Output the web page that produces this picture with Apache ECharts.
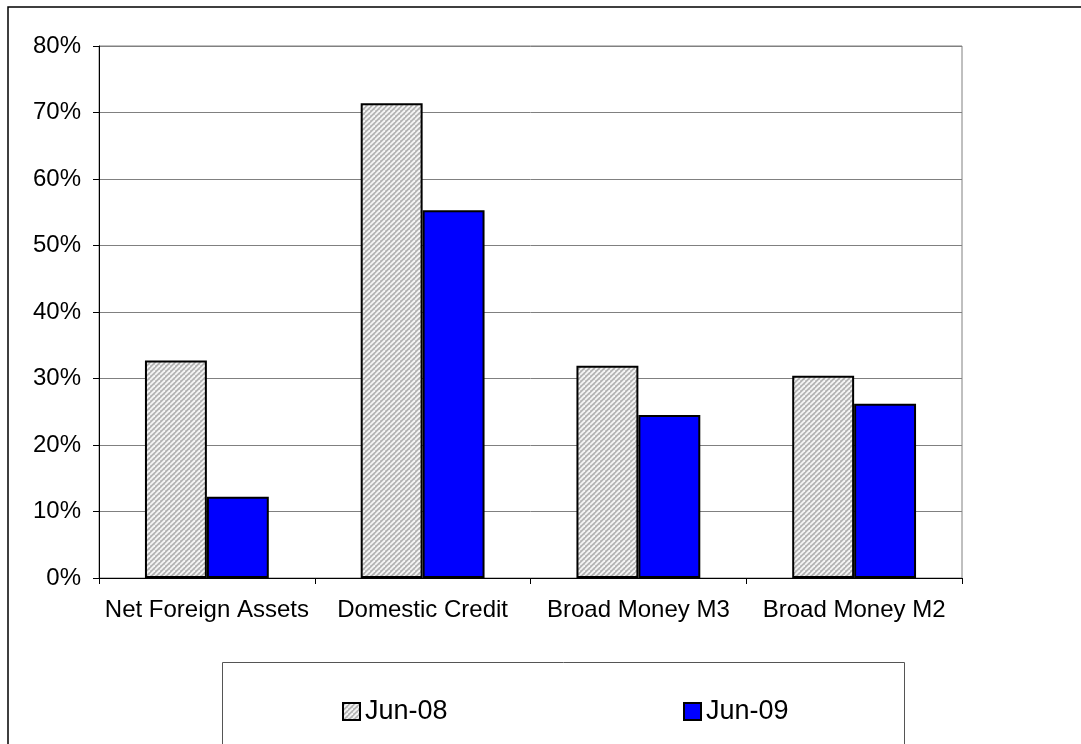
<!DOCTYPE html>
<html>
<head>
<meta charset="utf-8">
<style>
  html, body { margin: 0; padding: 0; background: #ffffff; }
  #chart { width: 1081px; height: 744px; }
</style>
<script src="https://cdn.jsdelivr.net/npm/echarts@6/dist/echarts.min.js"></script>
</head>
<body>
<div id="chart"></div>
<script>
// Monetary aggregates, growth (%)
const categories = ['Net Foreign Assets', 'Domestic Credit', 'Broad Money M3', 'Broad Money M2'];
const seriesNames = ['Jun-08', 'Jun-09'];
const jun08 = [32.7, 71.4, 31.9, 30.4];
const jun09 = [12.2, 55.3, 24.5, 26.2];
const yTicks = [0, 10, 20, 30, 40, 50, 60, 70, 80];

// diagonal hatch fill for the first series
function hatchPattern() {
  const size = 5;
  const c = document.createElement('canvas');
  c.width = size; c.height = size;
  const g = c.getContext('2d');
  g.fillStyle = '#b4b4b4';
  g.fillRect(0, 0, size, size);
  g.strokeStyle = '#f6f6f6';
  g.lineWidth = 1.8;
  for (let k = -1; k <= 1; k++) {
    g.beginPath();
    g.moveTo(k * size, size);
    g.lineTo(k * size + size, 0);
    g.stroke();
  }
  return { image: c, repeat: 'repeat' };
}

const font = 'Liberation Sans, Arial, sans-serif';
const chart = echarts.init(document.getElementById('chart'), null, { renderer: 'canvas' });

const legendText = { fontFamily: font, fontSize: 27, color: '#000000' };

chart.setOption({
  animation: false,
  backgroundColor: '#ffffff',
  grid: {
    left: 99, top: 46, right: 119, bottom: 166,
    show: true, borderColor: '#808080', borderWidth: 1
  },
  graphic: [
    {
      type: 'rect', z: 0,
      shape: { x: 8, y: 7, width: 1200, height: 900 },
      style: { fill: null, stroke: '#000000', lineWidth: 1.5 }
    },
    {
      type: 'rect', z: 0,
      shape: { x: 222.5, y: 662.5, width: 682, height: 200 },
      style: { fill: null, stroke: '#555555', lineWidth: 1 }
    }
  ],
  legend: [
    {
      data: [{ name: seriesNames[0], icon: 'rect' }],
      left: 342, top: 698, padding: 0,
      itemWidth: 17, itemHeight: 17, itemGap: 6,
      textStyle: legendText
    },
    {
      data: [{ name: seriesNames[1], icon: 'rect' }],
      left: 683, top: 698, padding: 0,
      itemWidth: 17, itemHeight: 17, itemGap: 6,
      textStyle: legendText
    }
  ],
  xAxis: {
    type: 'category',
    data: categories,
    boundaryGap: true,
    axisLine: { lineStyle: { color: '#000000', width: 1 } },
    axisTick: { show: true, length: 6, inside: false, lineStyle: { color: '#000000' } },
    axisLabel: { fontFamily: font, fontSize: 24, color: '#000000', margin: 20, interval: 0 },
    splitLine: { show: false }
  },
  yAxis: {
    type: 'value',
    min: yTicks[0],
    max: yTicks[yTicks.length - 1],
    interval: 10,
    axisLine: { show: true, lineStyle: { color: '#000000', width: 1 } },
    axisTick: { show: true, length: 6, lineStyle: { color: '#000000' } },
    axisLabel: {
      fontFamily: font, fontSize: 24, color: '#000000', margin: 18,
      formatter: v => v + '%'
    },
    splitLine: { show: true, lineStyle: { color: '#808080', width: 1 } }
  },
  series: [
    {
      name: seriesNames[0],
      type: 'bar',
      data: jun08,
      barWidth: '28.7%',
      barGap: '0%',
      itemStyle: { color: hatchPattern(), borderColor: '#000000', borderWidth: 2 }
    },
    {
      name: seriesNames[1],
      type: 'bar',
      data: jun09,
      barWidth: '28.7%',
      barGap: '0%',
      itemStyle: { color: '#0000ff', borderColor: '#000000', borderWidth: 2 }
    }
  ]
});
</script>
</body>
</html>
